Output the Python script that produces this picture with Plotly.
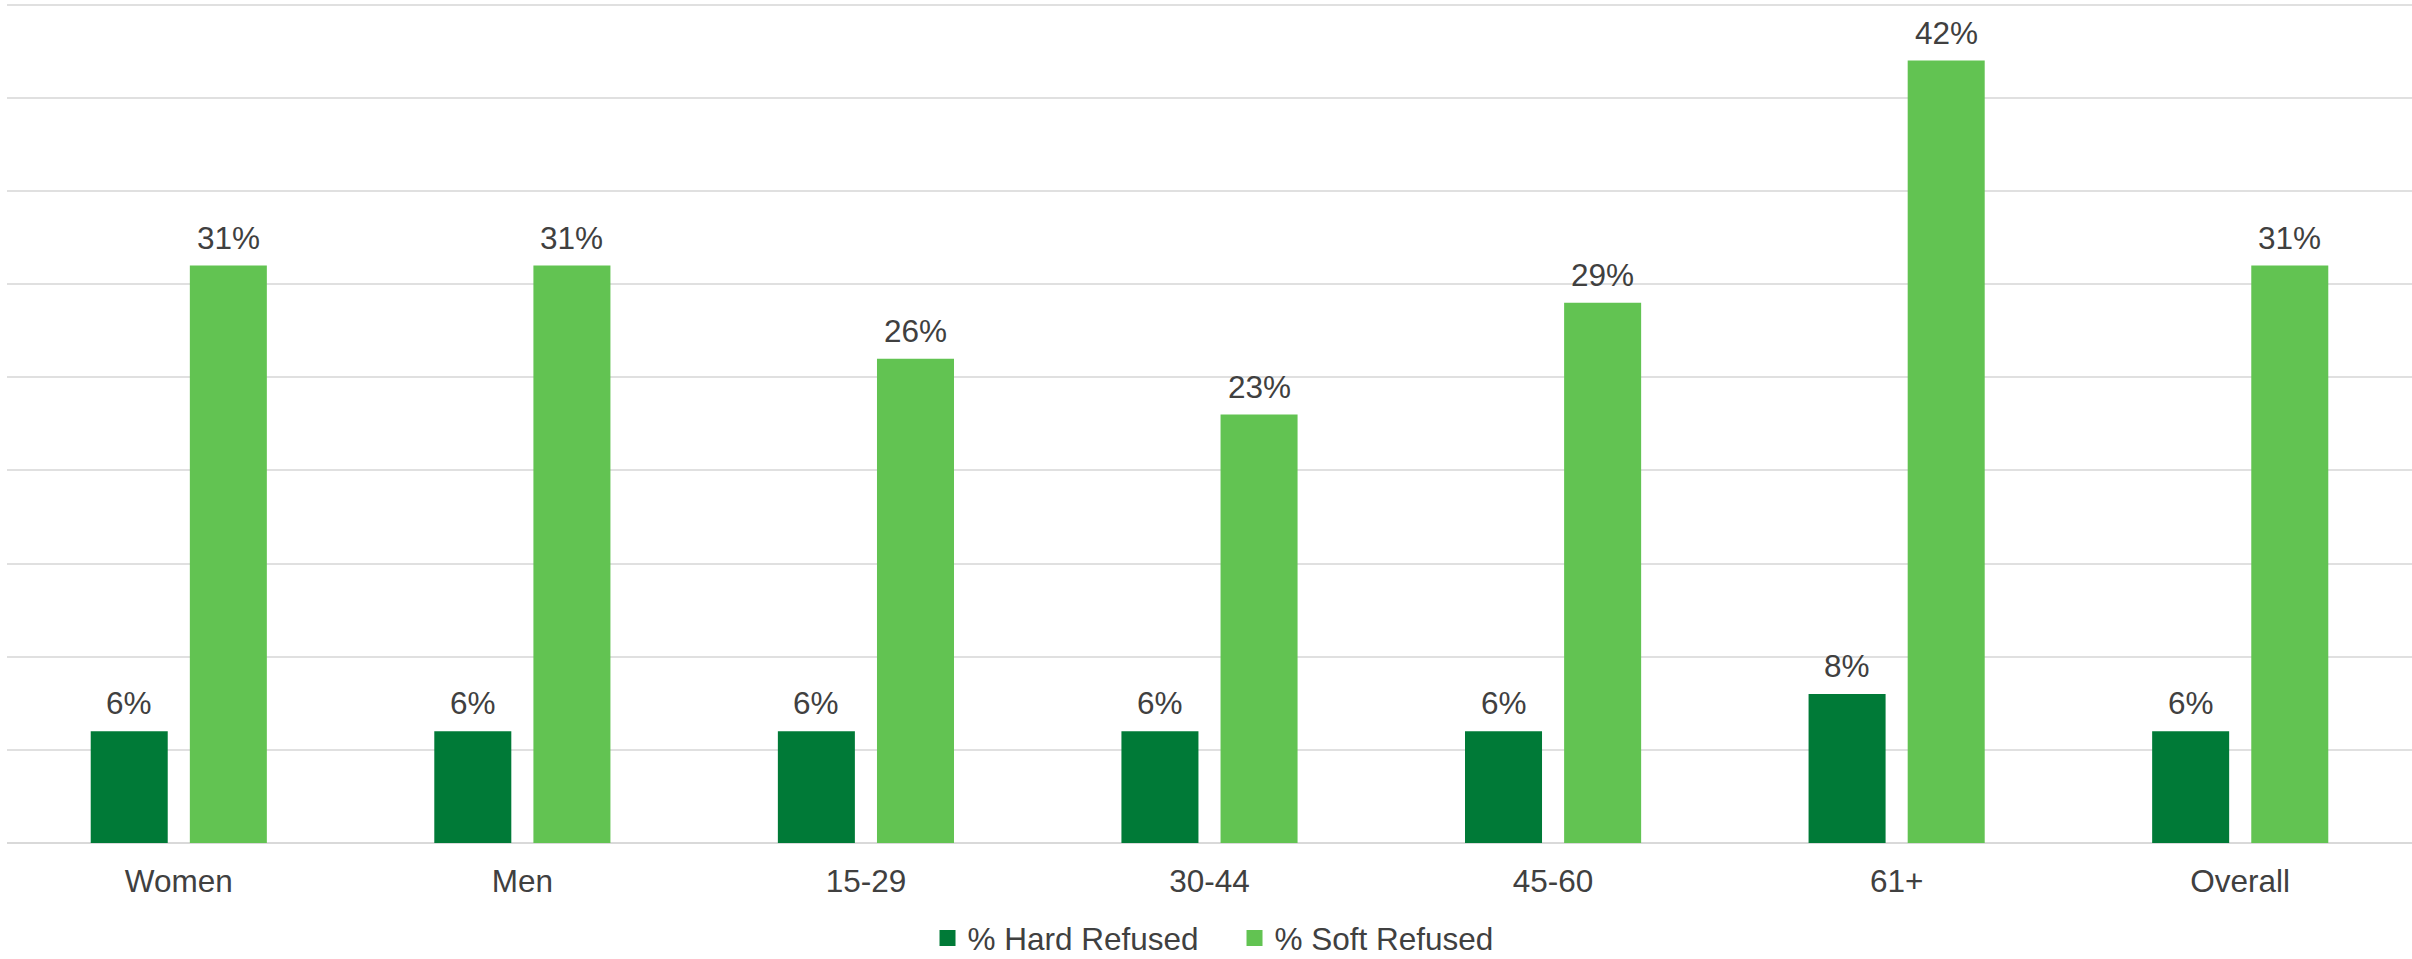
import plotly.graph_objects as go

categories = ["Women", "Men", "15-29", "30-44", "45-60", "61+", "Overall"]
hard_refused = [6, 6, 6, 6, 6, 8, 6]
soft_refused = [31, 31, 26, 23, 29, 42, 31]
series_names = ["% Hard Refused", "% Soft Refused"]

DARK = "#007A37"
LIGHT = "#62C352"
TEXT = "#404040"
FONT = "Liberation Sans, Arial, sans-serif"
FS = 31.5

W, H = 2412, 959
ML, MR, MT, MB = 7, 0, 1, 116
BARGAP = 0.423
GROUPGAP = 0.223

fig = go.Figure()
for name, vals, col in [(series_names[0], hard_refused, DARK), (series_names[1], soft_refused, LIGHT)]:
    fig.add_trace(go.Bar(x=categories, y=vals, name=name, marker=dict(color=col, line=dict(width=0)),
                         showlegend=False, hoverinfo="skip"))
    fig.add_trace(go.Scatter(x=[None], y=[None], mode="markers", name=name,
                             marker=dict(symbol="square", size=16, color=col)))

# value labels above bars
cat_px = (W - ML - MR) / len(categories)
slot_px = cat_px * (1 - BARGAP) / 2
for i, vals in enumerate([hard_refused, soft_refused]):
    shift = (i - 0.5) * slot_px
    for c, v in zip(categories, vals):
        fig.add_annotation(x=c, y=v, text=f"{v}%", showarrow=False, xanchor="center", yanchor="bottom",
                           xshift=shift, yshift=8, font=dict(family=FONT, size=FS, color=TEXT))

fig.update_layout(
    width=W, height=H,
    margin=dict(l=ML, r=MR, t=MT, b=MB, autoexpand=False),
    barmode="group", bargap=BARGAP, bargroupgap=GROUPGAP,
    plot_bgcolor="white", paper_bgcolor="white",
    font=dict(family=FONT, size=FS, color=TEXT),
    legend=dict(orientation="h", x=0.5104, xanchor="center", y=-0.113, yanchor="middle",
                font=dict(family=FONT, size=FS, color=TEXT), entrywidth=262,
                bgcolor="rgba(0,0,0,0)"),
    xaxis=dict(showgrid=False, ticks="outside", ticklen=10, tickcolor="rgba(0,0,0,0)",
               tickfont=dict(family=FONT, size=FS, color=TEXT), showline=False, zeroline=False,
               automargin=False),
    yaxis=dict(range=[0, 45.2], tickvals=[0, 5, 10, 15, 20, 25, 30, 35, 40, 45], showticklabels=False,
               showgrid=True, gridcolor="#E0E0E0", gridwidth=2, zeroline=True, zerolinecolor="#D9D9D9",
               zerolinewidth=2, showline=False, automargin=False),
)

fig.write_html("out.html")
